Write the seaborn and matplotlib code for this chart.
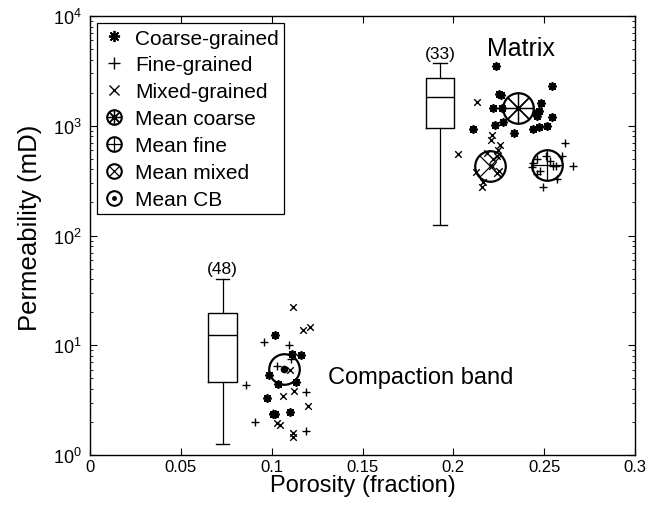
import seaborn as sns
import matplotlib.pyplot as plt
from matplotlib.lines import Line2D
import numpy as np

# ---- data ----
# matrix samples
mat_coarse_x = [0.2233, 0.2253, 0.2264, 0.2217, 0.2266, 0.2483, 0.2470, 0.2455, 0.2462,
                0.2545, 0.2541, 0.2108, 0.2229, 0.2275, 0.2332, 0.2437, 0.2470, 0.2514]
mat_coarse_y = [3525, 1946, 1905, 1462, 1443, 1602, 1371, 1298, 1235,
                2317, 1202, 934, 1016, 1089, 859, 929, 968, 1000]
mat_fine_x = [0.2617, 0.2657, 0.2495, 0.2510, 0.2596, 0.2440, 0.2431, 0.2477, 0.2462,
              0.2550, 0.2565, 0.2569, 0.2532, 0.2459]
mat_fine_y = [692, 430, 275, 527, 533, 458, 418, 389, 363, 433, 427, 327, 480, 498]
mat_mixed_x = [0.2128, 0.2028, 0.2215, 0.2206, 0.2257, 0.2248, 0.2239, 0.2220, 0.2211,
               0.2253, 0.2242, 0.2123, 0.2165, 0.2156, 0.2184]
mat_mixed_y = [1636, 553, 829, 741, 668, 601, 533, 498, 433, 389, 371, 381, 305, 279, 565]

# compaction band samples
cb_coarse_x = [0.1018, 0.1110, 0.1160, 0.0987, 0.1033, 0.1134, 0.0976, 0.1005, 0.1018, 0.1101]
cb_coarse_y = [12.4, 8.32, 8.15, 5.36, 4.43, 4.60, 3.28, 2.38, 2.35, 2.45]
cb_fine_x = [0.0958, 0.1094, 0.1105, 0.1031, 0.0857, 0.1187, 0.0906, 0.1187, 0.1005]
cb_fine_y = [10.7, 10.1, 7.50, 6.51, 4.34, 3.78, 1.99, 1.65, 2.41]
cb_mixed_x = [0.1116, 0.1171, 0.1211, 0.1101, 0.1125, 0.1064, 0.1200, 0.1028, 0.1046,
              0.1119, 0.1116]
cb_mixed_y = [22.5, 13.8, 14.8, 5.99, 3.85, 3.43, 2.78, 1.96, 1.88, 1.59, 1.47]

# means
mean_coarse = (0.2358, 1443)
mean_fine = (0.2517, 442)
mean_mixed = (0.2202, 433)
mean_cb = (0.1070, 6.04)

# box plot summaries: [compaction band, matrix]
box_pos = [0.073, 0.1927]
box_n = [48, 33]
box_whislo = [1.25, 125]
box_q1 = [4.6, 960]
box_med = [12.3, 1820]
box_q3 = [19.5, 2750]
box_whishi = [40, 3700]

plt.rcParams['font.family'] = ['Liberation Sans', 'DejaVu Sans']
plt.rcParams['mathtext.default'] = 'regular'

fig = plt.figure(figsize=(6.59, 5.06), dpi=100)
ax = fig.add_axes([0.1366, 0.0988, 0.8270, 0.8676])

# box plots
stats = []
for i in range(2):
    stats.append(dict(whislo=box_whislo[i], q1=box_q1[i], med=box_med[i],
                      q3=box_q3[i], whishi=box_whishi[i], fliers=[]))
ax.bxp(stats, positions=box_pos, widths=0.0158, showfliers=False, manage_ticks=False,
       boxprops=dict(color='k', lw=1.0), medianprops=dict(color='k', lw=1.0),
       whiskerprops=dict(color='k', lw=0.9), capprops=dict(color='k', lw=1.0),
       capwidths=0.0075)
for i in range(2):
    ax.text(box_pos[i], box_whishi[i] * 1.06, '(%d)' % box_n[i], ha='center', va='bottom',
            fontsize=12.5)

# scatter samples
ast = (8, 2, 0)
for xs, ys in [(mat_coarse_x, mat_coarse_y), (cb_coarse_x, cb_coarse_y)]:
    sns.scatterplot(x=xs, y=ys, marker=ast, color='k', s=28, linewidth=1.3, ax=ax)
for xs, ys in [(mat_fine_x, mat_fine_y), (cb_fine_x, cb_fine_y)]:
    sns.scatterplot(x=xs, y=ys, marker='+', color='k', s=40, linewidth=1.0, ax=ax)
for xs, ys in [(mat_mixed_x, mat_mixed_y), (cb_mixed_x, cb_mixed_y)]:
    sns.scatterplot(x=xs, y=ys, marker='x', color='k', s=22, linewidth=1.0, ax=ax)

# mean symbols
ms_big = 22
for (mx, my), inner in [(mean_coarse, ast), (mean_fine, '+'), (mean_mixed, 'x')]:
    ax.plot([mx], [my], marker='o', ms=ms_big, mfc='none', mec='k', mew=1.6, ls='none')
    ax.plot([mx], [my], marker=inner, ms=ms_big * (0.95 if inner == '+' else 0.72 if inner == 'x' else 1.0),
            mec='k', mew=0.9, ls='none')
ax.plot([mean_cb[0]], [mean_cb[1]], marker='o', ms=ms_big, mfc='none', mec='k', mew=1.6, ls='none')
ax.plot([mean_cb[0]], [mean_cb[1]], marker='o', ms=4.5, color='k', ls='none')

ax.text(0.2374, 5100, 'Matrix', ha='center', va='center', fontsize=18)
ax.text(0.131, 5.1, 'Compaction band', ha='left', va='center', fontsize=17)

ax.set_yscale('log')
ax.set_xlim(0, 0.3)
ax.set_ylim(1, 1e4)
ax.set_xticks([0, 0.05, 0.1, 0.15, 0.2, 0.25, 0.3])
ax.set_xticklabels(['0', '0.05', '0.1', '0.15', '0.2', '0.25', '0.3'])
ax.tick_params(which='both', direction='in', top=True, right=True, color='k')
ax.tick_params(which='major', length=5)
ax.tick_params(axis='x', which='major', pad=3, labelsize=12)
ax.tick_params(axis='y', which='major', pad=6, labelsize=13)
ax.tick_params(which='minor', length=2.5)
for sp in ax.spines.values():
    sp.set_linewidth(1.0)
    sp.set_color('k')
ax.set_xlabel('Porosity (fraction)', fontsize=17, va='center')
ax.xaxis.set_label_coords(0.5, -0.068)
ax.set_ylabel('Permeability (mD)', fontsize=18.5, va='center')
ax.yaxis.set_label_coords(-0.11, 0.52)

# legend
sm = 10.5
h_coarse = Line2D([], [], marker=ast, color='k', ls='none', ms=8, mew=1.3)
h_fine = Line2D([], [], marker='+', color='k', ls='none', ms=9, mew=1.0)
h_mixed = Line2D([], [], marker='x', color='k', ls='none', ms=6.5, mew=1.0)
circ = Line2D([], [], marker='o', mfc='none', mec='k', ls='none', ms=sm, mew=1.5)
h_mc = (circ, Line2D([], [], marker=ast, color='k', ls='none', ms=sm, mew=0.9))
h_mf = (circ, Line2D([], [], marker='+', color='k', ls='none', ms=sm, mew=0.9))
h_mm = (circ, Line2D([], [], marker='x', color='k', ls='none', ms=sm * 0.72, mew=0.9))
h_cb = (circ, Line2D([], [], marker='o', color='k', ls='none', ms=2.5))
leg = ax.legend([h_coarse, h_fine, h_mixed, h_mc, h_mf, h_mm, h_cb],
                ['Coarse-grained', 'Fine-grained', 'Mixed-grained', 'Mean coarse',
                 'Mean fine', 'Mean mixed', 'Mean CB'],
                loc='upper left', fontsize=15, frameon=True, fancybox=False,
                framealpha=1, edgecolor='k', borderaxespad=0.35, handlelength=1.1,
                handletextpad=0.45, labelspacing=0.38, borderpad=0.25)
leg.get_frame().set_linewidth(0.9)

fig.savefig('out.png', dpi=100)
